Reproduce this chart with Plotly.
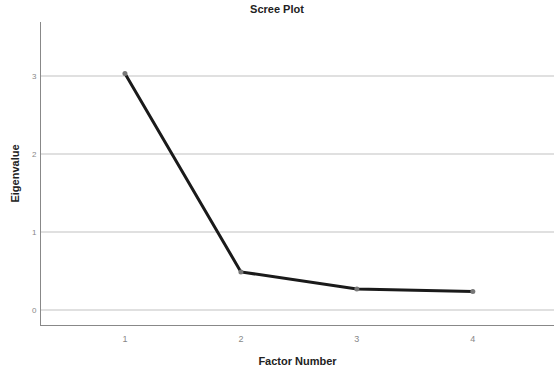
import plotly.graph_objects as go

# Scree plot data
factor_number = [1, 2, 3, 4]
eigenvalue = [3.03, 0.49, 0.27, 0.24]
y_ticks = [0, 1, 2, 3]
x_ticks = [1, 2, 3, 4]

fig = go.Figure()
fig.add_trace(go.Scatter(
    x=factor_number, y=eigenvalue, mode="lines+markers",
    line=dict(color="#1a1a1a", width=3),
    marker=dict(color="#777777", size=5),
    showlegend=False,
))

fig.update_layout(
    width=554, height=375,
    margin=dict(l=41, r=0, t=22, b=50),
    paper_bgcolor="white", plot_bgcolor="white",
    font=dict(family="Liberation Sans, Arial, sans-serif", color="#222222"),
    title=dict(text="<b>Scree Plot</b>", x=0.5, xanchor="center", y=0.985, yanchor="top",
               font=dict(size=11, color="#222222")),
    xaxis=dict(
        range=[0.276, 4.7], tickvals=x_ticks, ticktext=[str(v) for v in x_ticks],
        showgrid=False, zeroline=False, showline=True, linecolor="#888888", linewidth=1,
        ticks="outside", ticklen=5, tickcolor="rgba(0,0,0,0)",
        tickfont=dict(size=9, color="#888888"),
        title=dict(text="<b>Factor Number</b>", font=dict(size=11, color="#222222"), standoff=14),
    ),
    yaxis=dict(
        range=[-0.19, 3.69], tickvals=y_ticks, ticktext=[str(v) for v in y_ticks],
        showgrid=True, gridcolor="#e0e0e0", gridwidth=2, zeroline=False,
        showline=True, linecolor="#888888", linewidth=1,
        ticks="outside", ticklen=2, tickcolor="rgba(0,0,0,0)",
        tickfont=dict(size=8, color="#888888"),
        title=dict(text="<b>Eigenvalue</b>", font=dict(size=11, color="#222222"), standoff=10),
    ),
)

fig.write_html("out.html")
